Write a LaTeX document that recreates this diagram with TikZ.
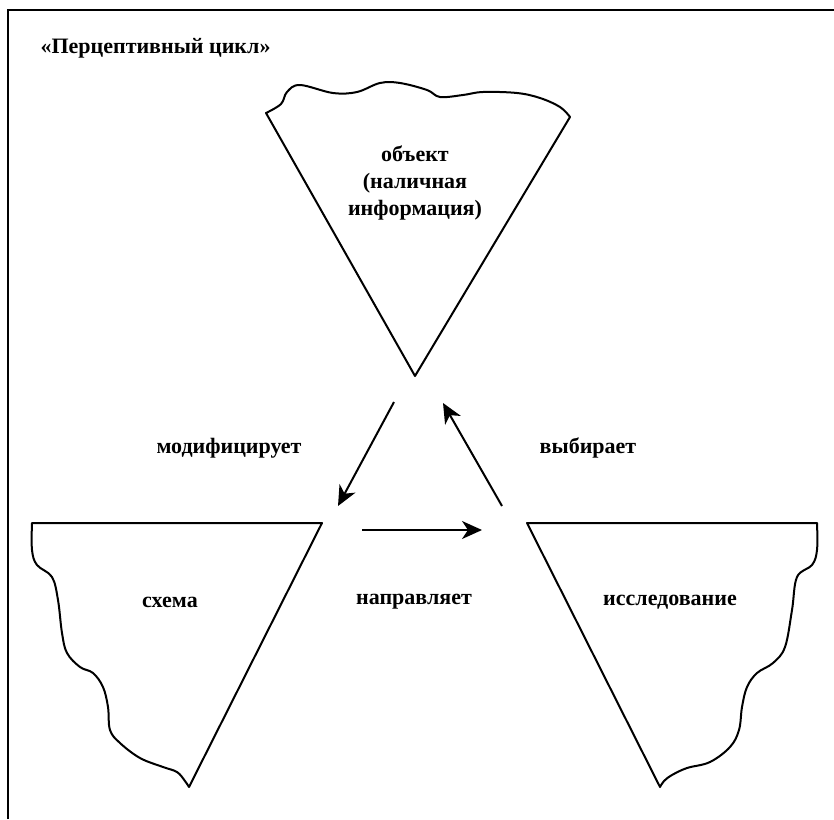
\documentclass[tikz,border=0pt]{standalone}
\usepackage{fontspec}
\setmainfont{Liberation Serif}
\usetikzlibrary{arrows.meta}

\tikzset{
  umriss/.style={line width=2pt, line join=round},
  pfeil/.style={line width=2pt, -{Stealth[length=20pt, width=18pt, inset=6pt]}},
  beschr/.style={font=\fontsize{22}{27}\selectfont\bfseries, align=center}
}

\begin{document}
\begin{tikzpicture}[x=1pt, y=-1pt]

	\useasboundingbox (0,0) rectangle (834,819);

	% Rahmen
	\draw[line width=2pt] (8,819) -- (8,10) -- (834,10);
	\node[beschr, anchor=west] (titel) at (37,48) {«Перцептивный цикл»};

	% oberes Dreieck
	\draw[umriss] (570,117) -- (415,376) -- (266,113) -- plot[smooth, tension=.6] coordinates {
		(266,113) (281,104) (287,92) (300,85) (333,93) (357,92) (380,83) (400,83)
		(427,90) (440,97) (463,95) (483,92) (517,93) (540,98) (560,107) (570,117)} -- cycle;
	\node[beschr] (objekt) at (415,183) {объект\\(наличная\\информация)};

	% linkes Dreieck
	\draw[umriss] (189,787) -- (322,523) -- (32,523) -- plot[smooth, tension=.6] coordinates {
		(32,523) (32,550) (37,565) (52,577) (58,600) (62,633) (67,653) (80,667)
		(93,673) (103,687) (108,707) (110,730) (120,743) (140,758) (163,767)
		(177,772) (185,781) (189,787)} -- cycle;
	\node[beschr] (schema) at (170,602) {схема};

	% rechtes Dreieck
	\draw[umriss] (660,787) -- (527,523) -- (817,523) -- plot[smooth, tension=.6] coordinates {
		(817,523) (817,550) (812,565) (797,577) (792,610) (785,647) (773,663)
		(757,673) (747,687) (742,707) (739,730) (730,747) (710,762) (687,768)
		(672,775) (664,781) (660,787)} -- cycle;
	\node[beschr] (erkundung) at (670,602) {исследование};

	% Pfeilenden
	\coordinate (a1) at (394,402);
	\coordinate (a2) at (338,506);
	\coordinate (b1) at (362,530);
	\coordinate (b2) at (482,530);
	\coordinate (c1) at (502,506);
	\coordinate (c2) at (443,403);

	% Kreislauf
	\draw[pfeil] (a1) -- (a2);
	\draw[pfeil] (b1) -- (b2);
	\draw[pfeil] (c1) -- (c2);

	\node[beschr] (modif) at (229,448) {модифицирует};
	\node[beschr] (wahl) at (588,448) {выбирает};
	\node[beschr] (lenkt) at (414,602) {направляет};

\end{tikzpicture}
\end{document}
